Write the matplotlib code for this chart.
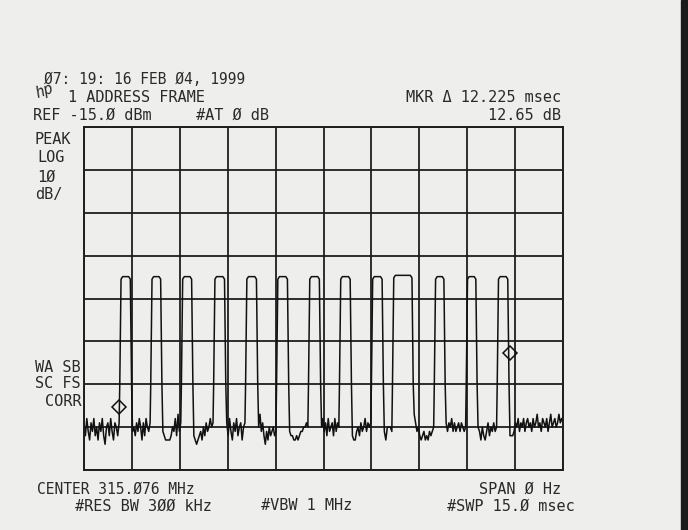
import numpy as np
import matplotlib.pyplot as plt
from matplotlib.patches import Rectangle

# sweep: 0..15 ms, ref -15 dBm, 10 dB/div, 8 divisions
sweep_ms = 15.0
ref_dbm = -15.0
db_per_div = 10.0

# pulse on/off times (ms)
pulse_on = [1.12, 2.09, 3.05, 4.06, 5.06, 6.03, 7.03, 8.00, 9.00, 9.66, 10.97, 11.97, 12.94]
pulse_off = [1.49, 2.44, 3.41, 4.44, 5.44, 6.41, 7.41, 8.375, 9.375, 10.31, 11.31, 12.31, 13.31]
pulse_top = [-49.9, -49.9, -49.9, -49.9, -49.9, -49.9, -49.9, -49.9, -49.9, -49.6, -49.9, -49.9, -49.9]

# noise floor between pulses (dBm), one list per gap
gap_noise = [
    [-84, -87, -83, -86, -88, -84, -86, -83, -87, -85, -88, -84, -86, -83,
     -87, -89, -85, -84, -87, -83, -86, -88, -84, -85, -87, -84],
    [-86, -85, -87, -84, -86, -83, -85, -88, -84, -87, -83, -85, -86, -84],
    [-86, -87, -88, -88, -88, -88, -87, -85, -86, -83, -87, -82, -86, -84],
    [-87, -88, -89, -88, -87, -86, -88, -85, -87, -84, -86, -85, -83, -85, -84],
    [-84, -87, -83, -86, -88, -84, -86, -83, -87, -85, -84, -88, -85, -84],
    [-85, -82, -86, -84, -87, -89, -86, -88, -85, -87, -86, -85, -87, -86],
    [-86, -87, -87, -88, -88, -87, -88, -87, -86, -86, -85, -85, -84, -85],
    [-85, -83, -86, -84, -87, -83, -86, -85, -84, -87, -83, -86, -84, -85],
    [-87, -88, -88, -86, -85, -87, -84, -86, -85, -83, -86, -84, -85, -84],
    [-86, -88, -85, -85, -85, -86],
    [-82, -84, -86, -85, -87, -88, -87, -86, -88, -87, -88, -86, -87, -86, -85],
    [-84, -86, -84, -85, -83, -86, -84, -86, -85, -84, -86, -84, -85, -86, -85],
    [-85, -86, -88, -85, -87, -88, -86, -84, -87, -85, -86, -84, -86, -85],
    [-87, -87, -87, -86, -84, -85, -83, -86, -84, -85, -83, -86, -84, -83,
     -85, -84, -86, -83, -85, -84, -82, -85, -84, -86, -83, -84, -85, -83,
     -86, -84, -82, -85, -84, -83, -85, -84, -82, -84, -83, -84],
]

mkr1_t, mkr1_db = 1.11, -80.3
mkr_dt, mkr_ddb = 12.225, 12.65

# build the trace from pulses + noise
t, v = [], []
starts = [0.0] + pulse_off
ends = pulse_on + [sweep_ms]
for i, seg in enumerate(gap_noise):
    lo = 0.0 if i == 0 else starts[i] + 0.03
    hi = sweep_ms if i == len(gap_noise) - 1 else ends[i] - 0.02
    t.extend(np.linspace(lo, hi, len(seg)))
    v.extend(seg)
    if i < len(pulse_on):
        top = pulse_top[i]
        t.extend([pulse_on[i], pulse_on[i] + 0.04, pulse_on[i] + 0.09,
                  pulse_off[i] - 0.09, pulse_off[i] - 0.04, pulse_off[i]])
        v.extend([-75, top - 0.6, top, top, top - 0.6, -75])

plt.rcParams['font.family'] = ['DejaVu Sans Mono']
bg = '#eeeeec'
fg = '#2a2a2a'

fig = plt.figure(figsize=(6.88, 5.30), dpi=100, facecolor=bg)
ax = fig.add_axes([84 / 688, 60 / 530, 479 / 688, 343 / 530])
ax.set_facecolor(bg)
ax.set_xlim(0, sweep_ms)
ax.set_ylim(ref_dbm - 8 * db_per_div, ref_dbm)
ax.set_xticks(np.linspace(0, sweep_ms, 11))
ax.set_yticks(np.arange(ref_dbm - 80, ref_dbm + 1, db_per_div))
ax.tick_params(length=0, labelbottom=False, labelleft=False)
ax.grid(True, color='#1e1e1e', lw=1.3)
for s in ax.spines.values():
    s.set_color('#1e1e1e')
    s.set_linewidth(1.4)

ax.plot(t, v, color='#111111', lw=1.1)
ax.plot([mkr1_t, mkr1_t + mkr_dt], [mkr1_db, mkr1_db + mkr_ddb], ls='none',
        marker='D', ms=7, mfc='none', mec='#111111', mew=1.1)

def txt(x, y, s, ha='left', fs=11):
    fig.text(x / 688, 1 - y / 530, s, ha=ha, va='center', fontsize=fs, color=fg)

txt(44, 79, 'Ø7: 19: 16 FEB Ø4, 1999', fs=10.5)
fig.text(33 / 688, 1 - 91 / 530, 'hp', fontsize=11, style='italic', color=fg,
         ha='left', va='center', rotation=20)
txt(68, 97, '1 ADDRESS FRAME')
txt(33, 115, 'REF -15.Ø dBm')
txt(196, 115, '#AT Ø dB')
txt(561, 97, 'MKR Δ 12.225 msec', ha='right')
txt(561, 115, '12.65 dB', ha='right')
txt(35, 139, 'PEAK')
txt(37, 158, 'LOG')
txt(37, 177, '1Ø')
txt(35, 195, 'dB/')
txt(35, 367, 'WA SB')
txt(35, 384, 'SC FS')
txt(82, 402, 'CORR', ha='right')
txt(37, 489, 'CENTER 315.Ø76 MHz', fs=10.5)
txt(561, 489, 'SPAN Ø Hz', ha='right')
txt(75, 506, '#RES BW 3ØØ kHz')
txt(261, 506, '#VBW 1 MHz')
txt(575, 506, '#SWP 15.Ø msec', ha='right')

# dark scanner edge on the right
fig.patches.append(Rectangle((681 / 688, 0), 7 / 688, 1, transform=fig.transFigure,
                             color='#1a1a1a', zorder=0))

fig.savefig('out.png', dpi=100, facecolor=bg)
